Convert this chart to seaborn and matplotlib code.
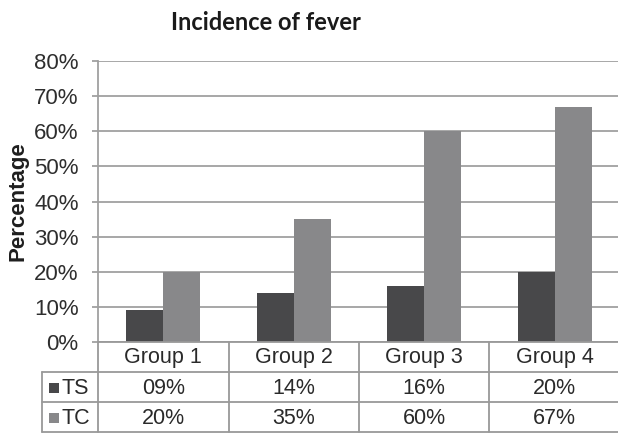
import matplotlib
matplotlib.use("Agg")
import matplotlib.pyplot as plt
from matplotlib.patches import Rectangle
from matplotlib.lines import Line2D
from matplotlib.ticker import MultipleLocator, FuncFormatter
import seaborn as sns
import pandas as pd

# Data
groups = ["Group 1", "Group 2", "Group 3", "Group 4"]
series = ["TS", "TC"]
ts_values = [9, 14, 16, 20]
tc_values = [20, 35, 60, 67]
colors = {"TS": "#48484a", "TC": "#88888a"}

df = pd.DataFrame({
    "group": groups * 2,
    "series": ["TS"] * len(groups) + ["TC"] * len(groups),
    "value": ts_values + tc_values,
})

sns.set_style("white")
plt.rcParams["font.family"] = ["Liberation Sans", "DejaVu Sans"]

W, H = 618, 434
fig = plt.figure(figsize=(W / 100, H / 100), dpi=100)


def fx(px):
    return px / W


def fy(py):
    return 1 - py / H


left_px, right_px, top_px, bottom_px = 98, 620, 61, 342
ax = fig.add_axes([fx(left_px), fy(bottom_px), fx(right_px - left_px), (bottom_px - top_px) / H])

sns.barplot(data=df, x="group", y="value", hue="series", palette=colors,
            width=0.567, linewidth=0, ax=ax, legend=False, saturation=1)

grid_c = "#a0a0a0"
ax.set_ylim(0, 80)
ax.set_xlim(-0.5, len(groups) - 0.5)
ax.yaxis.set_major_locator(MultipleLocator(10))
ax.yaxis.set_major_formatter(FuncFormatter(lambda v, p: f"{int(v)}%"))
ax.grid(axis="y", color=grid_c, linewidth=1.3)
ax.set_axisbelow(True)
for s in ["top", "right", "bottom"]:
    ax.spines[s].set_visible(False)
ax.spines["left"].set_color(grid_c)
ax.spines["left"].set_linewidth(1.3)
ax.tick_params(axis="y", which="major", left=True, length=4, width=1.3,
               color=grid_c, labelsize=16, labelcolor="#2e2e2e", pad=10)
ax.set_xticks([])
ax.set_xlabel("")
ax.set_ylabel("")

# Axis title, centred on the plot area
fig.text(fx(18), fy((top_px + bottom_px) / 2), "Percentage", fontsize=16, fontweight="bold",
         color="#1e1e1e", rotation=90, ha="center", va="center")

# Data table under the plot
line_c = "#999999"
row_px = [342, 372, 402, 432]
col_edges = [-0.5 + i for i in range(len(groups) + 1)]
trans = ax.get_xaxis_transform()


def ax_y(py):
    return (bottom_px - py) / (bottom_px - top_px)


# horizontal table lines
for py in row_px:
    x0 = fx(42) if py > row_px[0] else fx(left_px)
    fig.add_artist(Line2D([x0, fx(right_px)], [fy(py), fy(py)], color=line_c, lw=1.3))
# vertical lines between group columns
for xe in col_edges:
    ax.add_line(Line2D([xe, xe], [ax_y(row_px[0]), ax_y(row_px[-1])], transform=trans,
                       color=line_c, lw=1.3, clip_on=False))
# left border of the series label column
fig.add_artist(Line2D([fx(42), fx(42)], [fy(row_px[1]), fy(row_px[-1])], color=line_c, lw=1.3))

txt_kw = dict(fontsize=15.5, color="#2a2a2a", ha="center", va="center")
for i, g in enumerate(groups):
    ax.text(i, ax_y((row_px[0] + row_px[1]) / 2 + 1), g, transform=trans, clip_on=False, **txt_kw)
for r, (name, vals) in enumerate(zip(series, [ts_values, tc_values])):
    yc = (row_px[r + 1] + row_px[r + 2]) / 2 + 1
    for i, v in enumerate(vals):
        ax.text(i, ax_y(yc), f"{v:02d}%", transform=trans, clip_on=False, **txt_kw)
    fig.add_artist(Rectangle((fx(49), fy(yc + 5)), fx(10), 10 / H, facecolor=colors[name],
                             edgecolor="none"))
    fig.text(fx(62), fy(yc), name, fontsize=15.5, color="#2a2a2a", ha="left", va="center")

fig.text(fx(266), fy(30), "Incidence of fever", fontsize=17, fontweight="bold",
         family=["Lato", "DejaVu Sans"], color="#1a1a1a", ha="center", va="baseline")

fig.savefig("out.png", dpi=100, facecolor="white")
